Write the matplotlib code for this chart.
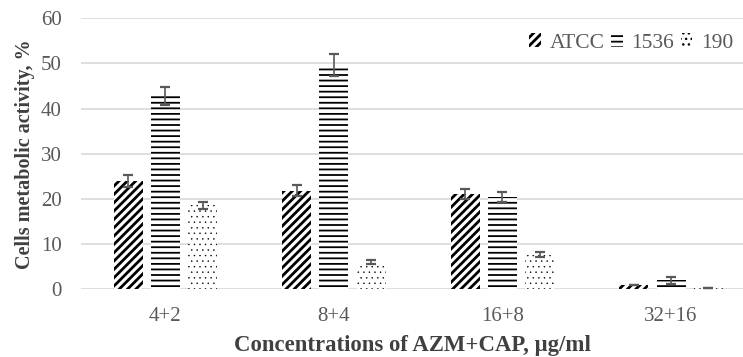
import numpy as np
import matplotlib
matplotlib.use("Agg")
import matplotlib.pyplot as plt

# ── Datos ────────────────────────────────────────────────────────────────────
categorias = ["4+2", "8+4", "16+8", "32+16"]
series = ["ATCC", "1536", "190"]

atcc = [24.0, 21.8, 21.1, 1.0]
atcc_err = [1.4, 1.2, 1.0, 0.0]
cepa_1536 = [42.8, 49.7, 20.5, 2.0]
cepa_1536_err = [2.0, 2.5, 1.1, 0.8]
cepa_190 = [18.6, 6.0, 7.7, 0.2]
cepa_190_err = [0.8, 0.5, 0.5, 0.0]

y_ticks = [0, 10, 20, 30, 40, 50, 60]

# ── Estilo ───────────────────────────────────────────────────────────────────
plt.rcParams["font.family"] = ["Liberation Serif", "DejaVu Serif"]
plt.rcParams["hatch.color"] = "black"

GRIS_TEXTO = "#595959"
GRIS_GRID = "#d9d9d9"

fig = plt.figure(figsize=(7.43, 3.57), dpi=100)
ax = fig.add_axes([0.109, 0.1896, 0.891, 0.7591])

x = np.arange(len(categorias))
ancho = 0.172
paso = 0.221

estilos = [
    (atcc, atcc_err, "////", 2.0),
    (cepa_1536, cepa_1536_err, "---", 1.3),
    (cepa_190, cepa_190_err, "...", 0.3),
]

handles = []
for i, (vals, errs, hatch, hlw) in enumerate(estilos):
    plt.rcParams["hatch.linewidth"] = hlw
    pos = x + (i - 1) * paso
    bars = ax.bar(pos, vals, width=ancho, facecolor="white", edgecolor="black",
                  linewidth=0, hatch=hatch, label=series[i], zorder=2)
    for b in bars:
        if hasattr(b, "set_hatch_linewidth"):
            b.set_hatch_linewidth(hlw)
    ax.errorbar(pos, vals, yerr=errs, fmt="none", ecolor=GRIS_TEXTO,
                elinewidth=1.2, capsize=3.5, capthick=1.6, zorder=3)
    handles.append(bars)

ax.set_xlim(-0.5, 3.427)
ax.set_ylim(0, 60)
ax.set_yticks(y_ticks)
ax.set_xticks(x)
ax.set_xticklabels(categorias)
ax.tick_params(axis="both", length=0, labelsize=15, colors=GRIS_TEXTO)
ax.tick_params(axis="x", pad=13)
ax.tick_params(axis="y", pad=14)

ax.yaxis.grid(True, color=GRIS_GRID, linewidth=1.2, zorder=0)
ax.set_axisbelow(True)
for s in ax.spines.values():
    s.set_visible(False)

ax.set_ylabel("Cells metabolic activity, %", fontsize=14.5, fontweight="bold",
              color="#404040", labelpad=4)
ax.set_xlabel("Concentrations of AZM+CAP, \u00b5g/ml", fontsize=16.4,
              fontweight="bold", color="#404040", labelpad=6)

leg = ax.legend(handles=handles, labels=series, loc="center right",
                bbox_to_anchor=(1.0, 0.909), ncol=3, frameon=False,
                fontsize=15.5, handlelength=0.55, handleheight=0.6,
                handletextpad=0.4, columnspacing=0.3, borderaxespad=0.05)
for t in leg.get_texts():
    t.set_color(GRIS_TEXTO)
# grosor del rayado también en los símbolos de la leyenda
for h, (_, _, _, hlw) in zip(leg.legend_handles, estilos):
    if hasattr(h, "set_hatch_linewidth"):
        h.set_hatch_linewidth(max(hlw, 1.0))

fig.savefig("out.png", dpi=100)
